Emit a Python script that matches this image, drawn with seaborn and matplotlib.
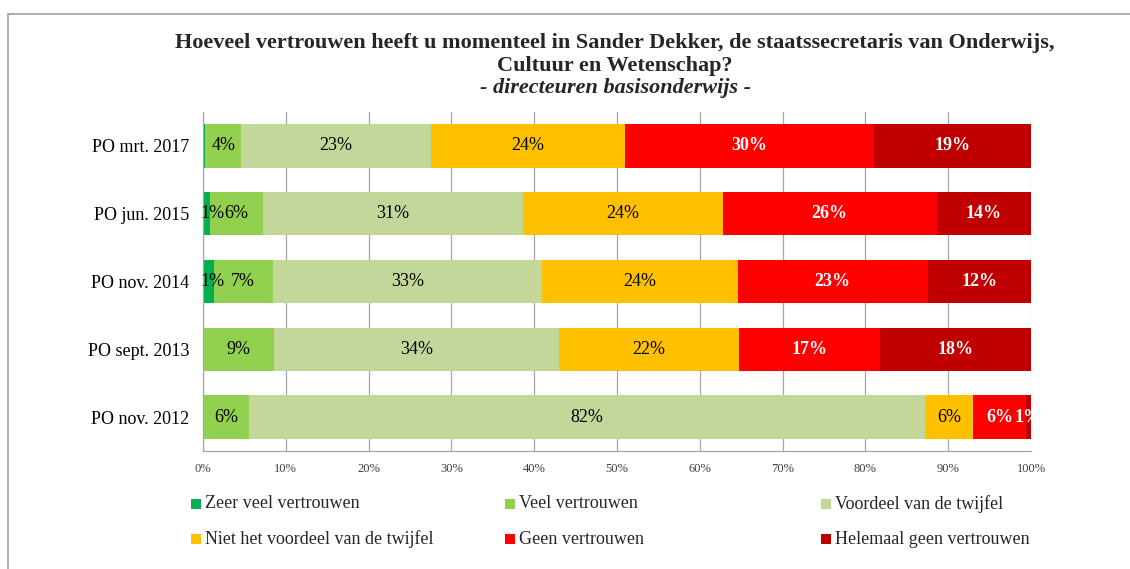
import matplotlib
matplotlib.use("Agg")
import matplotlib.pyplot as plt
import seaborn as sns
import pandas as pd
from matplotlib.patches import Rectangle
from matplotlib.lines import Line2D

# --- Data (top row first) ---
periods = ['PO mrt. 2017', 'PO jun. 2015', 'PO nov. 2014', 'PO sept. 2013', 'PO nov. 2012']

series_names = ['Zeer veel vertrouwen', 'Veel vertrouwen', 'Voordeel van de twijfel',
                'Niet het voordeel van de twijfel', 'Geen vertrouwen', 'Helemaal geen vertrouwen']
colors = ['#00B050', '#92D050', '#C4D79B', '#FFC000', '#FF0000', '#C00000']

zeer_veel = [0.3, 0.8, 1.3, 0.0, 0.0]
veel = [4.3, 6.4, 7.1, 8.6, 5.6]
voordeel = [22.9, 31.5, 32.6, 34.4, 81.6]
niet_voordeel = [23.5, 24.1, 23.6, 21.7, 5.8]
geen = [30.0, 25.8, 22.9, 17.1, 6.4]
helemaal_geen = [19.0, 11.4, 12.5, 18.2, 0.6]

# labels as printed on the chart (None = no label)
zeer_veel_lbl = [None, 1, 1, None, None]
veel_lbl = [4, 6, 7, 9, 6]
voordeel_lbl = [23, 31, 33, 34, 82]
niet_voordeel_lbl = [24, 24, 24, 22, 6]
geen_lbl = [30, 26, 23, 17, 6]
helemaal_geen_lbl = [19, 14, 12, 18, 1]

values = [zeer_veel, veel, voordeel, niet_voordeel, geen, helemaal_geen]
labels = [zeer_veel_lbl, veel_lbl, voordeel_lbl, niet_voordeel_lbl, geen_lbl, helemaal_geen_lbl]

sns.set_theme(style="white")
plt.rcParams['font.family'] = ['Liberation Serif', 'DejaVu Serif']

df = pd.DataFrame(dict(zip(series_names, values)), index=periods)
cum = df.cumsum(axis=1)

fig = plt.figure(figsize=(11.3, 5.69), dpi=100)
W, H = 1130, 569
ax = fig.add_axes([203 / W, 1 - 451 / H, 828 / W, 339 / H])

# stacked bars: draw cumulative totals from the longest to the shortest
for name, col in reversed(list(zip(series_names, colors))):
    sns.barplot(x=cum[name].values, y=periods, color=col, saturation=1,
                width=0.64, linewidth=0, ax=ax, orient='h', zorder=2)

# data labels
for i, name in enumerate(series_names):
    starts = cum[name] - df[name]
    white = i >= 4
    for j, period in enumerate(periods):
        lbl = labels[i][j]
        if lbl is None:
            continue
        xc = starts.iloc[j] + df[name].iloc[j] / 2
        xc = max(xc, 1.2)  # keep tiny labels off the axis line
        ax.text(xc, j, f"{lbl}%", ha='center', va='center', fontsize=13,
                color='white' if white else 'black',
                fontweight='bold' if white else 'normal', zorder=5)

ax.set_xlim(0, 100)
ax.set_ylim(4.5, -0.5)
ax.set_xticks(range(0, 101, 10))
ax.set_xticklabels([f"{t}%" for t in range(0, 101, 10)], fontsize=9, color='#404040')
ax.tick_params(axis='x', length=0, pad=9)
ax.tick_params(axis='y', length=0, pad=10, labelsize=13, labelcolor='black')
ax.set_xlabel('')
ax.set_ylabel('')
ax.grid(axis='x', color='#a6a6a6', linewidth=0.9, zorder=0)
ax.set_axisbelow(True)
for side in ['top', 'right']:
    ax.spines[side].set_visible(False)
for side in ['left', 'bottom']:
    ax.spines[side].set_color('#a6a6a6')
    ax.spines[side].set_linewidth(0.9)

# title
cx = 615 / W
fig.text(cx, 1 - 43 / H, 'Hoeveel vertrouwen heeft u momenteel in Sander Dekker, de staatssecretaris van Onderwijs,',
         ha='center', va='center', fontsize=16, fontweight='bold')
fig.text(cx, 1 - 66 / H, 'Cultuur en Wetenschap?', ha='center', va='center',
         fontsize=16, fontweight='bold')
fig.text(cx, 1 - 88 / H, '- directeuren basisonderwijs -', ha='center', va='center',
         fontsize=16, fontweight='bold', style='italic')

# legend (Excel-style fixed columns)
leg_x = [191, 505, 821]
leg_y = [504, 539]
for k, (name, col) in enumerate(zip(series_names, colors)):
    r, c = divmod(k, 3)
    x0, y0 = leg_x[c], leg_y[r]
    fig.patches.append(Rectangle((x0 / W, 1 - (y0 + 5) / H), 10 / W, 10 / H,
                                 transform=fig.transFigure, facecolor=col, edgecolor='none'))
    fig.text((x0 + 14) / W, 1 - y0 / H, name, ha='left', va='center', fontsize=13)

# outer frame (top and left edges visible)
fig.lines.append(Line2D([8 / W, 1], [1 - 14 / H, 1 - 14 / H], transform=fig.transFigure,
                        color='#a0a0a0', linewidth=1.2))
fig.lines.append(Line2D([8 / W, 8 / W], [0, 1 - 14 / H], transform=fig.transFigure,
                        color='#a0a0a0', linewidth=1.2))

fig.savefig('out.png', dpi=100)
